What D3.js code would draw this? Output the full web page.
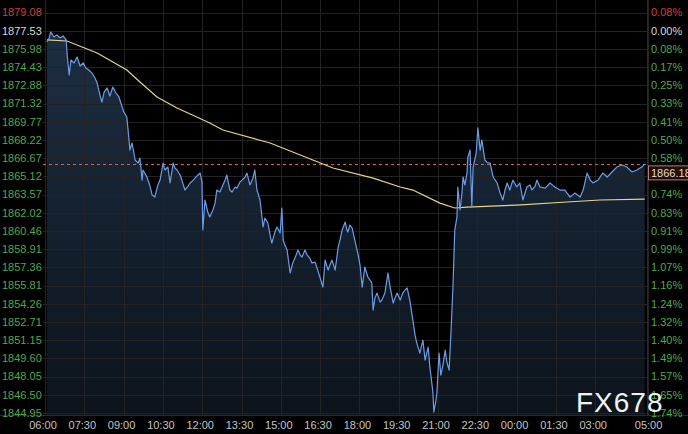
<!DOCTYPE html>
<html><head><meta charset="utf-8">
<script src="https://cdn.jsdelivr.net/npm/d3@7"></script>
<style>html,body{margin:0;padding:0;background:#000;overflow:hidden}</style>
</head><body><svg id="c" width="688" height="434"></svg>
<script>
// ---- data ----
const priceTicks = [1879.08,1877.53,1875.98,1874.43,1872.88,1871.32,1869.77,1868.22,1866.67,1865.12,1863.57,1862.02,1860.46,1858.91,1857.36,1855.81,1854.26,1852.71,1851.15,1849.60,1848.05,1846.50,1844.95];
const pctTicks = ["0.08%","0.00%","0.08%","0.17%","0.25%","0.33%","0.41%","0.50%","0.58%","0.66%","0.74%","0.83%","0.91%","0.99%","1.07%","1.16%","1.24%","1.32%","1.40%","1.49%","1.57%","1.65%","1.74%"];
const timeTicks = ["06:00","07:30","09:00","10:30","12:00","13:30","15:00","16:30","18:00","19:30","21:00","22:30","00:00","01:30","03:00","05:00"];
const prevClose = 1877.53;
const lastPrice = 1866.18;
// minutes after 06:00
const tMin = [9,14,18,25,32,39,46,53,55,60,64,71,78,85,92,98,105,112,119,124,131,135,140,147,153,160,167,174,179,185,192,197,199,204,211,218,222,227,229,238,245,250,256,263,268,275,279,286,291,298,302,307,314,318,325,332,337,344,348,355,360,364,366,371,378,382,389,394,398,405,410,417,421,428,433,440,444,451,456,463,467,474,481,485,490,497,504,508,515,520,524,531,536,543,547,550,554,559,566,572,577,584,589,593,600,605,611,616,623,627,634,641,646,653,657,662,669,676,680,685,692,696,698,703,708,714,721,726,731,737,744,749,753,756,760,765,772,776,783,790,795,802,806,811,818,824,829,834,840,847,852,856,863,870,875,882,886,891,893,895,900,902,907,911,916,921,925,930,934,939,943,948,950,955,959,962,966,971,973,978,982,985,992,996,1001,1005,1012,1017,1024,1031,1040,1047,1053,1058,1063,1069,1076,1085,1092,1099,1108,1115,1120,1127,1131,1138,1150,1161,1172,1184,1195,1207,1218,1230,1237,1246,1253,1260,1271,1282,1292,1303,1314,1326,1337,1349,1360,1371,1378];
const price = [1876.57,1876.91,1877.42,1876.99,1877.16,1876.91,1877.08,1876.74,1875.63,1873.75,1875.03,1874.78,1875.29,1874.52,1874.78,1874.35,1874.18,1873.92,1873.50,1873.07,1871.96,1871.45,1872.30,1872.65,1871.96,1872.73,1872.22,1871.88,1871.28,1870.60,1870.17,1868.21,1867.36,1867.96,1866.51,1866.25,1866.68,1864.80,1865.66,1865.06,1864.29,1863.52,1863.35,1864.38,1864.80,1866.25,1865.66,1865.91,1864.55,1866.25,1865.83,1865.66,1865.23,1864.80,1863.95,1864.29,1864.55,1864.80,1864.97,1865.23,1865.40,1864.63,1860.54,1863.10,1861.99,1861.65,1862.25,1862.84,1863.95,1863.78,1864.21,1864.80,1865.23,1863.95,1863.78,1864.21,1864.10,1864.63,1864.80,1865.06,1865.40,1864.38,1864.97,1865.66,1863.95,1863.10,1860.80,1861.56,1861.14,1860.11,1859.43,1860.37,1860.80,1860.29,1862.42,1859.69,1859.26,1858.84,1856.88,1857.73,1858.15,1858.84,1858.41,1858.24,1858.84,1858.41,1858.15,1857.73,1857.81,1857.39,1856.54,1855.68,1857.98,1857.13,1857.56,1857.98,1857.13,1859.09,1859.69,1860.54,1861.22,1860.54,1860.37,1860.97,1860.71,1859.69,1858.58,1857.56,1855.68,1857.39,1856.54,1856.28,1856.02,1853.72,1854.74,1855.17,1854.40,1854.57,1855.17,1856.88,1855.68,1854.32,1854.74,1855.17,1854.57,1855.17,1855.43,1855.60,1854.57,1852.87,1851.59,1850.91,1850.06,1851.16,1849.46,1850.57,1848.86,1847.33,1846.65,1845.03,1846.05,1846.65,1850.06,1848.18,1849.03,1850.31,1849.29,1848.61,1851.59,1855.85,1860.54,1861.65,1864.21,1862.25,1863.52,1865.06,1864.38,1865.40,1866.76,1867.36,1862.50,1865.91,1867.10,1869.24,1867.36,1868.21,1866.51,1866.30,1866.25,1865.06,1864.55,1863.69,1863.10,1863.95,1864.55,1863.95,1864.80,1864.21,1864.55,1863.10,1864.21,1864.38,1863.95,1864.29,1864.80,1864.21,1864.12,1864.55,1864.21,1863.95,1863.95,1863.35,1863.69,1863.35,1863.95,1865.40,1864.80,1864.55,1864.80,1865.40,1865.06,1865.49,1865.91,1866.08,1865.91,1865.49,1865.66,1865.91,1866.18];
const avgMin = [9,55,124,192,222,261,307,382,412,520,618,664,756,818,847,909,943,971,1085,1200,1276,1378];
const avgPrice = [1876.74,1876.65,1875.63,1874.18,1873.16,1871.88,1870.94,1869.66,1869.07,1867.96,1866.51,1865.83,1864.97,1864.21,1863.95,1862.84,1862.42,1862.50,1862.67,1862.93,1863.10,1863.18];

// ---- layout ----
const svg = d3.select("#c");
const W = 688, H = 434;
const plotL = 43, plotR = 647, plotB = 415;
const x = d3.scaleLinear().domain([0, 1380]).range([43, 645.6]);
const y = d3.scaleLinear().domain([1844.95, 1879.08]).range([413, 12.5]);
const toMin = s => { const [h, m] = s.split(":").map(Number); return ((h - 6 + 24) % 24) * 60 + m; };

svg.append("rect").attr("width", W).attr("height", H).attr("fill", "#000");

const defs = svg.append("defs");
const g = defs.append("linearGradient").attr("id", "af").attr("x1", 0).attr("x2", 0).attr("y1", 0).attr("y2", 1);
g.append("stop").attr("offset", "0%").attr("stop-color", "#1d2e42");
g.append("stop").attr("offset", "100%").attr("stop-color", "#0c131b");
defs.append("clipPath").attr("id", "clip").append("rect").attr("x", plotL).attr("y", 0).attr("width", plotR - plotL).attr("height", plotB);

// area
const pts = tMin.map((t, i) => [t, price[i]]);
svg.append("path").datum(pts).attr("clip-path", "url(#clip)")
  .attr("d", d3.area().x(d => x(d[0])).y0(plotB).y1(d => y(d[1])))
  .attr("fill", "url(#af)");

// grid
const grid = svg.append("g").attr("stroke", "#232323").attr("stroke-width", 1);
priceTicks.forEach(p => grid.append("line").attr("x1", plotL).attr("x2", plotR)
  .attr("y1", Math.round(y(p)) + 0.5).attr("y2", Math.round(y(p)) + 0.5));
timeTicks.forEach(t => grid.append("line").attr("y1", 0).attr("y2", plotB)
  .attr("x1", Math.round(x(toMin(t))) + 2.5).attr("x2", Math.round(x(toMin(t))) + 2.5));
svg.append("line").attr("x1", 0).attr("x2", W).attr("y1", plotB + 0.5).attr("y2", plotB + 0.5).attr("stroke", "#2a2a2a");
svg.append("line").attr("x1", plotR + 0.5).attr("x2", plotR + 0.5).attr("y1", 0).attr("y2", plotB).attr("stroke", "#2a2a2a");

// last price dashed line
svg.append("line").attr("x1", plotL).attr("x2", plotR).attr("y1", Math.round(y(lastPrice)) + 0.5).attr("y2", Math.round(y(lastPrice)) + 0.5)
  .attr("stroke", "#d2644e").attr("stroke-width", 1).attr("stroke-dasharray", "3,3");

// avg line
svg.append("path").datum(avgMin.map((t, i) => [t, avgPrice[i]])).attr("clip-path", "url(#clip)")
  .attr("d", d3.line().x(d => x(d[0])).y(d => y(d[1])))
  .attr("fill", "none").attr("stroke", "#e4d488").attr("stroke-width", 1.2);

// price line
svg.append("path").datum(pts).attr("clip-path", "url(#clip)")
  .attr("d", d3.line().x(d => x(d[0])).y(d => y(d[1])))
  .attr("fill", "none").attr("stroke", "#6d9de6").attr("stroke-width", 1.2).attr("stroke-linejoin", "round");

// axes text
const font = "'Liberation Sans', Arial, sans-serif";
const colorFor = p => p > prevClose ? "#d04040" : (p === prevClose ? "#d8d8d8" : "#4fa94f");
svg.append("g").selectAll("text").data(priceTicks).join("text")
  .attr("x", 2).attr("y", d => y(d)).attr("dy", "0.35em")
  .attr("font-family", font).attr("font-size", 11).attr("fill", colorFor)
  .text(d => d.toFixed(2));

// last price box position (covers the tick label underneath, as in the source)
const by = y(lastPrice) + 2;
const pctShown = pctTicks.map((d, i) => ({ d, i })).filter(o => {
  const ty = y(priceTicks[o.i]);
  return ty < by - 4 || ty > by + 18;
});
svg.append("g").selectAll("text").data(pctShown).join("text")
  .attr("x", 651).attr("y", o => y(priceTicks[o.i])).attr("dy", "0.35em")
  .attr("font-family", font).attr("font-size", 11).attr("fill", o => colorFor(priceTicks[o.i]))
  .text(o => o.d);
svg.append("g").selectAll("text").data(timeTicks).join("text")
  .attr("x", d => x(toMin(d)) + (d === "05:00" ? 3 : 0)).attr("y", 425).attr("dy", "0.35em")
  .attr("text-anchor", "middle")
  .attr("font-family", font).attr("font-size", 11).attr("fill", "#c4c4c4")
  .text(d => d);

// last price box
svg.append("rect").attr("x", 648.5).attr("y", by).attr("width", 45).attr("height", 14)
  .attr("fill", "#1c0f0c").attr("stroke", "#c07a62").attr("stroke-width", 1);
svg.append("text").attr("x", 651).attr("y", by + 7).attr("dy", "0.35em")
  .attr("font-family", font).attr("font-size", 11).attr("fill", "#f2d8cc").text(lastPrice.toFixed(2));

// watermark
svg.append("text").attr("x", 576).attr("y", 412).attr("font-family", font).attr("font-size", 28)
  .attr("letter-spacing", 1).attr("fill", "#f2f2f2").text("FX678");
</script>
</body></html>
